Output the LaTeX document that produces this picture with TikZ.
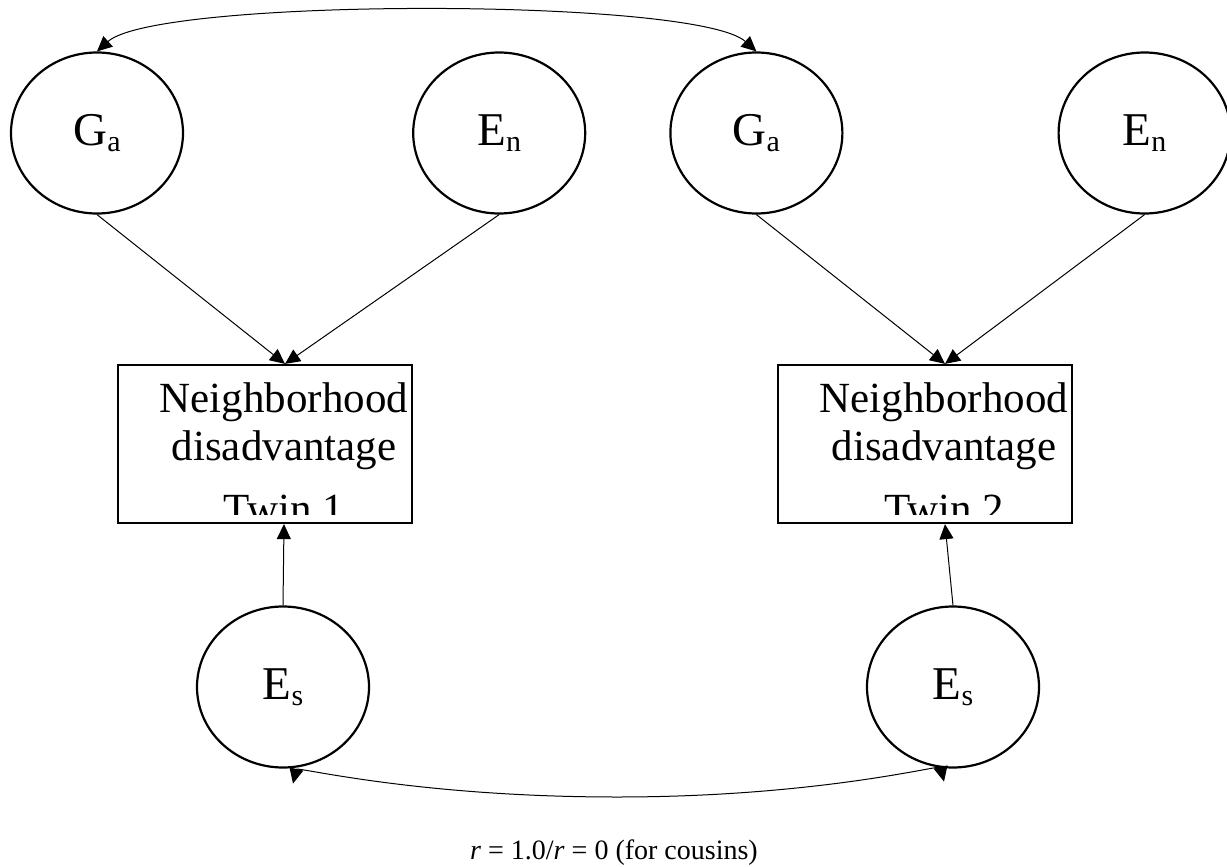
\documentclass[tikz,border=0pt]{standalone}
\usepackage{fontspec}
\setmainfont{Liberation Serif}
\usepackage{tikz}
\usetikzlibrary{shapes.geometric, arrows.meta, positioning, calc}
\newcommand{\latsub}[1]{\raisebox{-6pt}{\fontsize{30}{30}\selectfont #1}}

\begin{document}
\begin{tikzpicture}[x=1pt, y=-1pt,
  latent/.style={ellipse, draw, line width=2.2pt, minimum width=172pt,
    minimum height=161pt, inner sep=0pt, font=\fontsize{47}{47}\selectfont},
  measure/.style={rectangle, draw, line width=2.2pt, minimum width=294pt,
    minimum height=158pt, inner sep=0pt},
  boxtext/.style={align=center, inner sep=0pt, font=\fontsize{43}{48}\selectfont},
  regpath/.style={-{Triangle[length=15pt, width=14pt]}, line width=1pt},
  covpath/.style={{Triangle[length=15pt, width=14pt]}-{Triangle[length=15pt, width=14pt]}, line width=1pt}
]
  \useasboundingbox (0,0) rectangle (1227,867);

  % latent factors, top row
  \node[latent] (GaOne) at (97,133) {G\latsub{a}};
  \node[latent, right=228pt of GaOne] (EnOne) {E\latsub{n}};
  \node[latent, right=83pt of EnOne]  (GaTwo) {G\latsub{a}};
  \node[latent, right=214pt of GaTwo] (EnTwo) {E\latsub{n}};

  % observed measures
  \node[measure] (boxOne) at (265,444) {};
  \node[measure] (boxTwo) at (925,444) {};
  \begin{scope}
    \clip (boxOne.north west) rectangle ($(boxOne.south east)+(0,-10)$);
    \node[boxtext, anchor=north] (txtOne) at ($(boxOne.north)+(19,19)$)
      {Neighborhood\\ disadvantage\\[15pt] Twin 1};
  \end{scope}
  \begin{scope}
    \clip (boxTwo.north west) rectangle ($(boxTwo.south east)+(0,-10)$);
    \node[boxtext, anchor=north] (txtTwo) at ($(boxTwo.north)+(19,19)$)
      {Neighborhood\\ disadvantage\\[15pt] Twin 2};
  \end{scope}

  % specific environment
  \node[latent] (EsOne) at (283,687) {E\latsub{s}};
  \node[latent] (EsTwo) at (953,687) {E\latsub{s}};

  \coordinate (inOne)  at ($(boxOne.north)+(20,0)$);
  \coordinate (inTwo)  at ($(boxTwo.north)+(20,0)$);
  \coordinate (upOne)  at ($(boxOne.south)+(19,0)$);
  \coordinate (upTwo)  at ($(boxTwo.south)+(20,0)$);

  \draw[regpath] (GaOne.south) -- (inOne);
  \draw[regpath] (EnOne.south) -- (inOne);
  \draw[regpath] (GaTwo.south) -- (inTwo);
  \draw[regpath] (EnTwo.south) -- (inTwo);
  \draw[regpath] (EsOne.north) -- (upOne);
  \draw[regpath] (EsTwo.north) -- (upTwo);

  % covariances
  \draw[covpath] (GaOne.north) .. controls ($(GaOne.north)+(60,-54)$)
    and ($(GaTwo.north)+(-60,-54)$) .. (GaTwo.north);

  \coordinate (esOneTip) at ($(EsOne.south)+(10,15)$);
  \coordinate (esTwoTip) at ($(EsTwo.south)+(-9,13)$);
  \coordinate (covLow)   at (617,797);
  \draw[covpath] (esOneTip) .. controls ($(esOneTip)+(4,-17)$)
    and ($(covLow)+(-200,0)$) .. (covLow)
    .. controls ($(covLow)+(200,0)$) and ($(esTwoTip)+(-4,-17)$) .. (esTwoTip);

  \node[anchor=base, font=\fontsize{28}{28}\selectfont] (corr) at (614,859)
    {\textit{r} = 1.0/\textit{r} = 0 (for cousins)};
\end{tikzpicture}
\end{document}
